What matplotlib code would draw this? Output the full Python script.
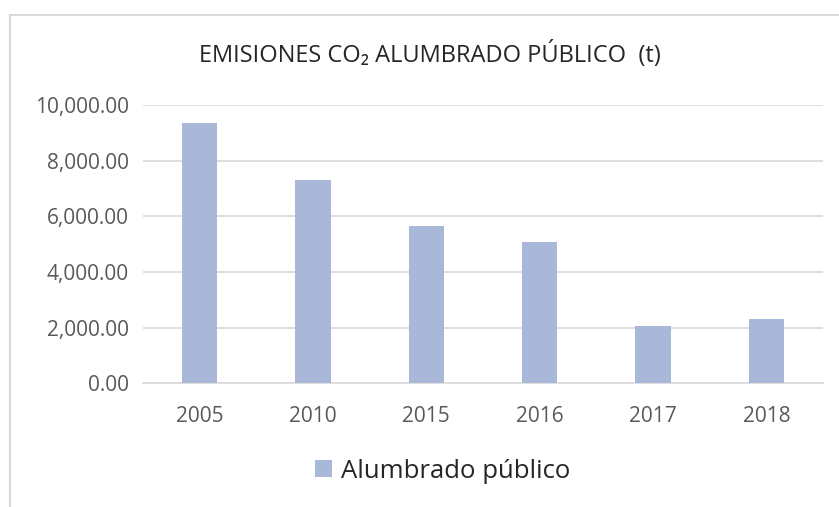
import matplotlib
matplotlib.use("Agg")
import matplotlib.pyplot as plt
from matplotlib.patches import Rectangle
from matplotlib.ticker import FuncFormatter

years = ["2005", "2010", "2015", "2016", "2017", "2018"]
values = [9340, 7300, 5650, 5090, 2060, 2310]
series_name = "Alumbrado público"
title = "EMISIONES CO₂ ALUMBRADO PÚBLICO  (t)"
yticks = [0, 2000, 4000, 6000, 8000, 10000]

plt.rcParams['font.family'] = ['Open Sans', 'DejaVu Sans']

W, H = 839, 507
fig = plt.figure(figsize=(W/100, H/100), dpi=100)

# chart border
fig.patches.append(Rectangle((10/W, -0.1), 1.2, 1 - 15/H + 0.1, transform=fig.transFigure,
                             fill=False, edgecolor='#D9D9D9', linewidth=1.5))

ax = fig.add_axes([143/W, 1 - 383.3/H, (823-143)/W, (383.3-105)/H])
x = range(len(years))
ax.bar(x, values, width=0.31, color='#A9B7D8', label=series_name, zorder=3)
ax.set_xlim(-0.5, len(years) - 0.5)
ax.set_ylim(0, 10000)
ax.set_yticks(yticks)
ax.yaxis.set_major_formatter(FuncFormatter(lambda v, p: f"{v:,.2f}"))
ax.set_xticks(list(x))
ax.set_xticklabels(years)
ax.grid(axis='y', color='#D9D9D9', linewidth=1.2, zorder=0)
for s in ['top', 'right', 'left']:
    ax.spines[s].set_visible(False)
ax.spines['bottom'].set_color('#D9D9D9')
ax.spines['bottom'].set_linewidth(1.2)
ax.tick_params(axis='both', length=0, colors='#595959', labelsize=15)
ax.tick_params(axis='y', pad=10)
ax.tick_params(axis='x', pad=16)

fig.text(430/W, 1 - 62/H, title, ha='center', va='baseline', fontsize=17, color='#262626')

leg = fig.legend(loc='center left', bbox_to_anchor=(315/W, 1 - 471/H), frameon=False,
                 borderpad=0, borderaxespad=0,
                 fontsize=18.5, handlelength=0.68, handleheight=0.68, handletextpad=0.34)
for t in leg.get_texts():
    t.set_color('#262626')

fig.savefig("out.png", dpi=100)
